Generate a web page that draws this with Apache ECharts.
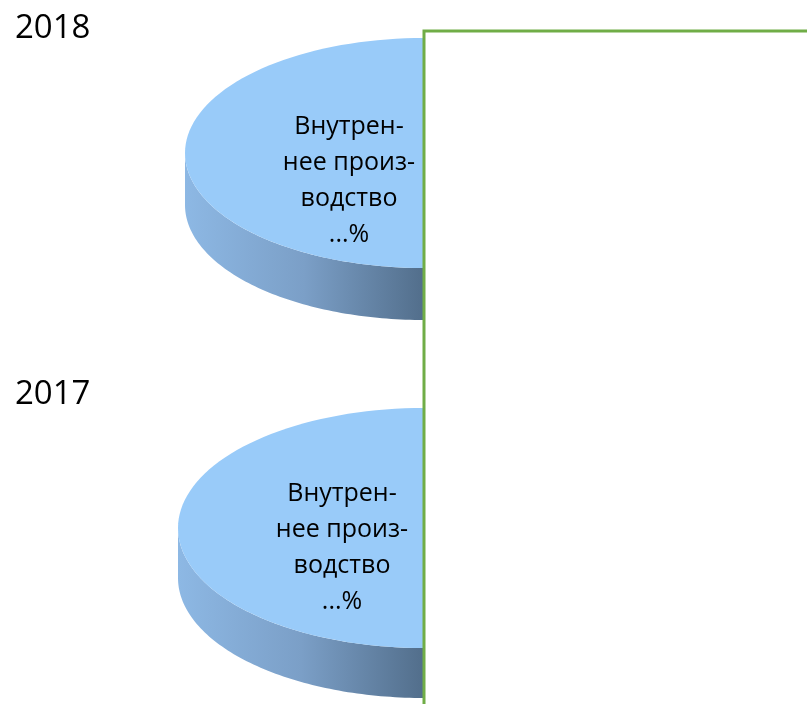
<!DOCTYPE html>
<html>
<head>
<meta charset="utf-8">
<script src="https://cdn.jsdelivr.net/npm/echarts@6/dist/echarts.min.js"></script>
<style>
  html, body { margin: 0; padding: 0; background: #fff; }
  #chart { width: 807px; height: 704px; }
</style>
</head>
<body>
<div id="chart"></div>
<script>
// данные
var years = ['2018', '2017'];
var internalShare = [50, 50];   // видимая доля (левая половина круга)
var sliceLabels = [
  'Внутрен-\nнее произ-\nводство\n...%',
  'Внутрен-\nнее произ-\nводство\n...%'
];

// геометрия каждого "3D" круга
var pieLayout = [
  { cx: 424, cy: 153, rx: 239, ry: 115, depth: 52, lx: -75, ly: 28 },
  { cx: 424, cy: 528, rx: 246, ry: 120, depth: 50, lx: -82, ly: 20 }
];
var yearPos = [{ left: 15, top: 12 }, { left: 15, top: 378 }];

function arc(l, from, to, dy) {
  var pts = [];
  var n = 80;
  for (var k = 0; k <= n; k++) {
    var a = from + (to - from) * k / n;
    pts.push([l.cx + l.rx * Math.cos(a), l.cy + dy + l.ry * Math.sin(a)]);
  }
  return pts;
}

var chart = echarts.init(document.getElementById('chart'));

var option = {
  animation: false,
  title: years.map(function (y, i) {
    return {
      text: y,
      left: yearPos[i].left,
      top: yearPos[i].top,
      padding: 0,
      textStyle: { fontFamily: 'Open Sans', fontSize: 33, fontWeight: 'normal', color: '#000' }
    };
  }),
  graphic: [{
    type: 'polyline',
    z: 100,
    shape: { points: [[807, 31], [424, 31], [424, 704]] },
    style: { stroke: '#70AD47', lineWidth: 3, fill: null }
  }],
  series: [{
    type: 'custom',
    coordinateSystem: 'none',
    silent: true,
    data: years.map(function (y, i) { return [i, internalShare[i]]; }),
    renderItem: function (params, api) {
      var i = api.value(0);
      var share = api.value(1);
      var L = pieLayout[i];
      var a0 = -Math.PI / 2;
      var a1 = a0 - 2 * Math.PI * share / 100;
      var children = [];
      // боковая стенка (видимая передняя часть)
      var s0 = Math.max(a1, -2 * Math.PI), s1 = Math.min(a0, -Math.PI);
      if (s1 > s0) {
        var side = arc(L, s0, s1, 0).concat(arc(L, s1, s0, L.depth));
        children.push({
          type: 'polygon',
          shape: { points: side },
          style: {
            fill: new echarts.graphic.LinearGradient(0, 0, 1, 0, [
              { offset: 0, color: '#8DB8E4' },
              { offset: 0.5, color: '#7B9FC7' },
              { offset: 1, color: '#526E8B' }
            ])
          }
        });
      }
      // верхняя грань
      children.push({
        type: 'polygon',
        shape: { points: [[L.cx, L.cy]].concat(arc(L, a0, a1, 0)) },
        style: { fill: '#99CBF9' }
      });
      children.push({
        type: 'text',
        x: L.cx + L.lx,
        y: L.cy + L.ly,
        style: {
          text: sliceLabels[i],
          fontFamily: 'Open Sans',
          fontSize: 25,
          lineHeight: 36,
          fill: '#000',
          align: 'center',
          verticalAlign: 'middle'
        }
      });
      return { type: 'group', children: children };
    }
  }]
};

chart.setOption(option);
window.onresize = function () {
  chart.resize();
};
</script>
</body>
</html>
